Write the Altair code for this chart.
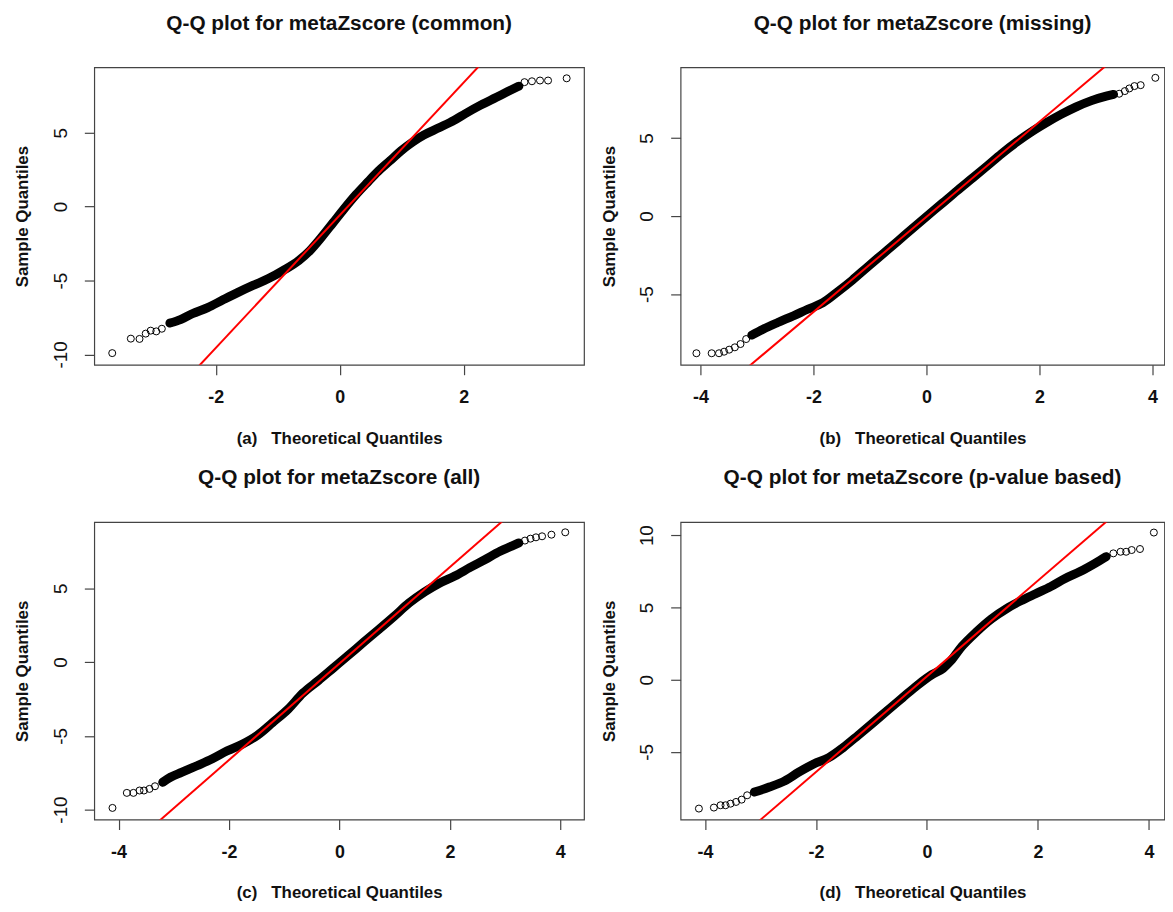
import altair as alt
import pandas as pd

# ---------------- data ----------------
# (a) common
a_band_x = [-2.74, -2.56, -2.38, -2.13, -1.89, -1.64, -1.40, -1.15, -0.91, -0.66, -0.48, -0.29, -0.11, 0.07, 0.26, 0.44, 0.62, 0.81, 0.99, 1.18, 1.36, 1.60, 1.85, 2.03, 2.28, 2.52, 2.71, 2.89]
a_band_y = [-7.88, -7.62, -7.25, -6.83, -6.32, -5.80, -5.33, -4.87, -4.31, -3.64, -2.97, -2.05, -1.10, -0.15, 0.80, 1.61, 2.39, 3.10, 3.78, 4.38, 4.85, 5.33, 5.85, 6.30, 6.88, 7.38, 7.78, 8.15]
a_tail_x = [-3.67, -3.37, -3.23, -3.13, -3.05, -2.96, -2.87, 2.98, 3.10, 3.23, 3.36, 3.66]
a_tail_y = [-9.91, -8.93, -8.95, -8.59, -8.39, -8.44, -8.26, 8.42, 8.48, 8.53, 8.53, 8.68]
a_line = [-0.58, 4.49]          # intercept, slope
a_xdom = [-3.96, 3.94]
a_ydom = [-10.7, 9.42]

# (b) missing
b_band_x = [-3.09, -2.89, -2.63, -2.36, -2.10, -1.83, -1.57, -1.31, -1.04, -0.78, -0.51, -0.25, 0.01, 0.28, 0.54, 0.81, 1.07, 1.33, 1.60, 1.86, 2.13, 2.39, 2.65, 2.92, 3.18, 3.31]
b_band_y = [-7.63, -7.25, -6.82, -6.40, -5.97, -5.55, -4.85, -4.10, -3.25, -2.45, -1.62, -0.80, 0.0, 0.82, 1.62, 2.42, 3.20, 4.0, 4.75, 5.40, 6.0, 6.53, 7.0, 7.40, 7.69, 7.80]
b_tail_x = [-4.07, -3.80, -3.67, -3.58, -3.49, -3.39, -3.29, -3.19, 3.41, 3.51, 3.59, 3.68, 3.79, 4.05]
b_tail_y = [-8.79, -8.79, -8.79, -8.69, -8.56, -8.41, -8.20, -7.88, 7.84, 8.01, 8.18, 8.33, 8.39, 8.86]
b_line = [-0.05, 3.05]
b_xdom = [-4.35, 4.21]
b_ydom = [-9.53, 9.53]

# (c) all
c_band_x = [-3.20, -3.06, -2.86, -2.58, -2.31, -2.03, -1.76, -1.48, -1.21, -0.93, -0.66, -0.38, -0.11, 0.16, 0.44, 0.71, 0.99, 1.26, 1.54, 1.81, 2.09, 2.36, 2.64, 2.91, 3.12, 3.25]
c_band_y = [-8.15, -7.81, -7.48, -7.03, -6.58, -6.02, -5.57, -4.95, -4.10, -3.20, -2.10, -1.25, -0.40, 0.45, 1.35, 2.20, 3.10, 4.0, 4.75, 5.35, 5.84, 6.40, 6.96, 7.52, 7.86, 8.08]
c_tail_x = [-4.11, -3.85, -3.73, -3.62, -3.54, -3.44, -3.34, 3.36, 3.46, 3.56, 3.67, 3.84, 4.09]
c_tail_y = [-9.89, -8.87, -8.87, -8.71, -8.71, -8.60, -8.42, 8.24, 8.37, 8.46, 8.53, 8.64, 8.80]
c_line = [-0.1, 3.27]
c_xdom = [-4.44, 4.43]
c_ydom = [-10.68, 9.49]

# (d) p-value based
d_band_x = [-3.11, -2.84, -2.57, -2.31, -2.04, -1.77, -1.51, -1.24, -0.97, -0.71, -0.44, -0.17, 0.09, 0.29, 0.43, 0.63, 0.89, 1.16, 1.43, 1.69, 1.96, 2.23, 2.49, 2.76, 3.03, 3.23]
d_band_y = [-7.78, -7.43, -7.02, -6.40, -5.83, -5.40, -4.70, -3.85, -2.98, -2.12, -1.25, -0.38, 0.35, 0.78, 1.30, 2.30, 3.30, 4.20, 4.90, 5.45, 5.95, 6.44, 7.00, 7.48, 8.05, 8.51]
d_tail_x = [-4.11, -3.84, -3.72, -3.63, -3.54, -3.44, -3.34, -3.24, 3.36, 3.49, 3.59, 3.69, 3.84, 4.09]
d_tail_y = [-8.92, -8.85, -8.69, -8.69, -8.58, -8.46, -8.30, -8.00, 8.74, 8.85, 8.85, 8.97, 9.04, 10.18]
d_line = [0.23, 3.31]
d_xdom = [-4.44, 4.28]
d_ydom = [-9.68, 10.9]

titles = ["Q-Q plot for metaZscore (common)", "Q-Q plot for metaZscore (missing)",
          "Q-Q plot for metaZscore (all)", "Q-Q plot for metaZscore (p-value based)"]
tags = ["(a)", "(b)", "(c)", "(d)"]
x_ticks_a = [-2, 0, 2]
x_ticks = [-4, -2, 0, 2, 4]
y_ticks_a = [-10, -5, 0, 5]
y_ticks_b = [-5, 0, 5]
y_ticks_c = [-10, -5, 0, 5]
y_ticks_d = [-5, 0, 5, 10]

NB = "\u00a0"


def panel(band_x, band_y, tail_x, tail_y, line, xdom, ydom, xticks, yticks, title, tag, width, height):
    band = pd.DataFrame({"x": band_x, "y": band_y})
    pts = pd.DataFrame({"x": band_x + tail_x, "y": band_y + tail_y})
    ln = pd.DataFrame({"x": xdom, "y": [line[0] + line[1] * v for v in xdom]})
    xt = tag + NB * 3 + "Theoretical Quantiles" + NB * 7
    xenc = alt.X("x:Q", scale=alt.Scale(domain=xdom, nice=False, zero=False),
                 axis=alt.Axis(values=xticks, title=xt, labelExpr="toString(datum.value)"))
    yenc = alt.Y("y:Q", scale=alt.Scale(domain=ydom, nice=False, zero=False),
                 axis=alt.Axis(values=yticks, title="Sample Quantiles", labelExpr="toString(datum.value)"))
    b = alt.Chart(band).mark_line(color="black", strokeWidth=9, strokeCap="round",
                                  strokeJoin="round", interpolate="monotone").encode(x=xenc, y=yenc)
    c = alt.Chart(pts).mark_point(shape="circle", filled=False, size=50, color="black",
                                  strokeWidth=1, opacity=1).encode(x=xenc, y=yenc)
    r = alt.Chart(ln).mark_line(color="#ff0000", strokeWidth=2, clip=True).encode(x=xenc, y=yenc)
    return alt.layer(b, c, r).properties(width=width, height=height, title=title)


pa = panel(a_band_x, a_band_y, a_tail_x, a_tail_y, a_line, a_xdom, a_ydom, x_ticks_a, y_ticks_a, titles[0], tags[0], 494, 300)
pb = panel(b_band_x, b_band_y, b_tail_x, b_tail_y, b_line, b_xdom, b_ydom, x_ticks, y_ticks_b, titles[1], tags[1], 488, 300)
pc = panel(c_band_x, c_band_y, c_tail_x, c_tail_y, c_line, c_xdom, c_ydom, x_ticks, y_ticks_c, titles[2], tags[2], 494, 300)
pd_ = panel(d_band_x, d_band_y, d_tail_x, d_tail_y, d_line, d_xdom, d_ydom, x_ticks, y_ticks_d, titles[3], tags[3], 488, 300)

chart = alt.concat(pa, pb, pc, pd_, columns=2, bounds="flush",
                   spacing=alt.RowColnumber(row=158.7, column=97.4)).properties(
    padding={"left": 5, "top": 0, "right": 0, "bottom": 0}
).configure_view(
    stroke="#444", strokeWidth=1.2
).configure_axis(
    domain=False, grid=False, tickColor="#444", tickSize=10, tickWidth=1.2,
    labelFont="Liberation Sans", labelFontSize=18, labelColor="#111",
    titleFont="Liberation Sans", titleFontSize=17, titleFontWeight="bold", titleColor="#111"
).configure_axisX(
    labelFontWeight="bold", labelPadding=14, titlePadding=24
).configure_axisY(
    labelAngle=270, labelFontWeight="normal", labelFontSize=19, labelPadding=14, titlePadding=20
).configure_title(
    font="Liberation Sans", fontSize=21, fontWeight="bold", color="#111",
    anchor="middle", frame="group", offset=34, baseline="alphabetic"
)

chart.save("out.html", embed_options={"renderer": "svg", "actions": False})
